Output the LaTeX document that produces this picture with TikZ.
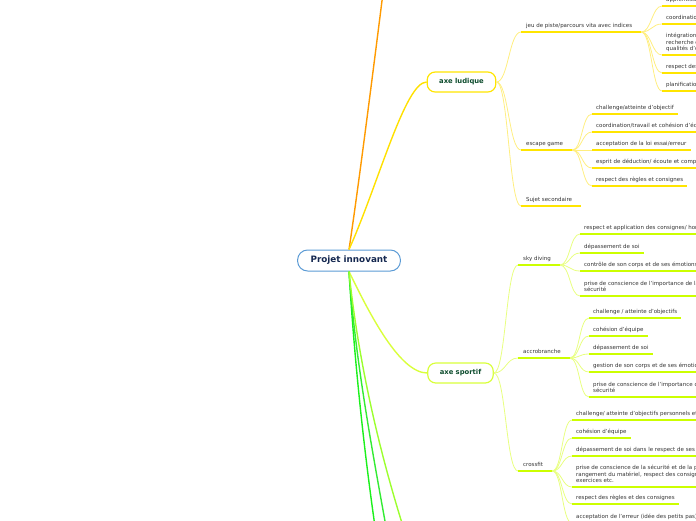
\documentclass[tikz,border=0pt]{standalone}
\usepackage{fontspec}
\setmainfont{DejaVu Sans}
\definecolor{txtc}{HTML}{333333}
\definecolor{rootb}{HTML}{5B9BD5}
\definecolor{roott}{HTML}{152850}
\definecolor{axet}{HTML}{0E4D2E}
\definecolor{orangeL}{HTML}{FF9A00}
\definecolor{yelM}{HTML}{FFE000}
\definecolor{yelC}{HTML}{FFEE80}
\definecolor{yelU}{HTML}{FFE500}
\definecolor{ygM}{HTML}{D9FF3B}
\definecolor{ygC}{HTML}{E8FF80}
\definecolor{ygU}{HTML}{CCFF00}
\definecolor{grA}{HTML}{1BF01B}
\definecolor{grB}{HTML}{33EB33}
\definecolor{grC}{HTML}{9CFF2E}
\tikzset{
  leaf/.style={anchor=south west, inner xsep=4pt, inner ysep=2pt, align=left,
    text=txtc, font=\fontsize{5.5}{6.6}\selectfont, execute at end node={\strut}},
  midnode/.style={leaf, inner xsep=5pt, execute at end node={\hspace*{4pt}\strut}},
  rootbox/.style={draw=rootb, line width=1pt, fill=white, rounded corners=10pt,
    minimum height=21pt, inner xsep=13pt, text=roott, font=\fontsize{8.8}{10}\selectfont\bfseries},
  axebox/.style={line width=1.2pt, fill=white, rounded corners=8pt,
    minimum height=20pt, inner xsep=12pt, text=axet, font=\fontsize{6.8}{8}\selectfont\bfseries},
  mainline/.style={line width=1.4pt},
  conL/.style={draw=yelC, line width=0.8pt},
  conS/.style={draw=ygC, line width=0.8pt},
  ulL/.style={draw=yelU, line width=1.8pt},
  ulS/.style={draw=ygU, line width=1.8pt},
}
\begin{document}
\begin{tikzpicture}[x=1pt,y=-1pt]
\useasboundingbox (0,0) rectangle (696,520);
\clip (0,0) rectangle (696,520);

% root and main axes
\node[rootbox] (root) at (349,260.5) {Projet innovant};
\node[axebox, draw=yelU] (lud) at (461.5,82) {axe ludique};
\node[axebox, draw=ygM] (spo) at (460.5,373) {axe sportif};

\coordinate (oTop) at (384,-15);
\coordinate (gA) at (380,560);
\coordinate (gB) at (392,560);
\coordinate (gC) at (414,560);

% ludique branch
\node[midnode] (jeu) at (521,32) {jeu de piste/parcours vita avec indices};
\node[midnode] (esc) at (521,150) {escape game};
\node[midnode] (suj) at (521,206) {Sujet secondaire};

\node[leaf] (j1) at (662,6) {apprentissage};
\node[leaf] (j2) at (662,24) {coordination};
\node[leaf] (j3) at (662,55) {intégration des règles,\\recherche d'indices,\\qualités d'observation};
\node[leaf] (j4) at (662,73) {respect des règles et consignes};
\node[leaf] (j5) at (662,91) {planification};

\node[leaf] (e1) at (592,114) {challenge/atteinte d'objectif};
\node[leaf] (e2) at (592,132) {coordination/travail et cohésion d'équipe};
\node[leaf] (e3) at (592,150) {acceptation de la loi essai/erreur};
\node[leaf] (e4) at (592,168) {esprit de déduction/ écoute et compréhension};
\node[leaf] (e5) at (592,186) {respect des règles et consignes};

% sportif branch
\node[midnode] (sky) at (518,265) {sky diving};
\node[midnode] (acc) at (518,358) {accrobranche};
\node[midnode] (cro) at (518,471) {crossfit};

\node[leaf] (s1) at (580,234) {respect et application des consignes/ horaires};
\node[leaf] (s2) at (580,253) {dépassement de soi};
\node[leaf] (s3) at (580,271) {contrôle de son corps et de ses émotions};
\node[leaf] (s4) at (580,296) {prise de conscience de l'importance de la\\sécurité};

\node[leaf] (a1) at (589,318) {challenge / atteinte d'objectifs};
\node[leaf] (a2) at (589,336) {cohésion d'équipe};
\node[leaf] (a3) at (589,354) {dépassement de soi};
\node[leaf] (a4) at (589,372) {gestion de son corps et de ses émotions};
\node[leaf] (a5) at (589,397) {prise de conscience de l'importance de la\\sécurité};

\node[leaf] (c1) at (572,420) {challenge/ atteinte d'objectifs personnels et collectifs};
\node[leaf] (c2) at (572,438) {cohésion d'équipe};
\node[leaf] (c3) at (572,456) {dépassement de soi dans le respect de ses limites};
\node[leaf] (c4) at (572,487) {prise de conscience de la sécurité et de la prévention\\rangement du matériel, respect des consignes\\exercices etc.};
\node[leaf] (c5) at (572,504) {respect des règles et des consignes};
\node[leaf] (c6) at (572,523) {acceptation de l'erreur (idée des petits pas)};

% main connectors
\draw[mainline, draw=orangeL] (root.north) .. controls (358,190) and (372,80) .. (oTop);
\draw[mainline, draw=yelM] (root.north) .. controls (378,185) and (405,82) .. (lud.west);
\draw[mainline, draw=ygM] (root.south) .. controls (370,315) and (400,373) .. (spo.west);
\draw[mainline, draw=grA] (root.south) .. controls (355,370) and (366,470) .. (gA);
\draw[mainline, draw=grB] (root.south) .. controls (356,370) and (376,470) .. (gB);
\draw[mainline, draw=grC] (root.south) .. controls (358,360) and (380,460) .. (gC);

% ludique connectors and underlines
\foreach \m in {jeu,esc,suj}
  \draw[conL] (lud.east) .. controls +(12,0) and +(-12,0) .. (\m.south west);
\foreach \c in {j1,j2,j3,j4,j5}
  \draw[conL] (jeu.south east) .. controls +(10,0) and +(-10,0) .. (\c.south west);
\foreach \c in {e1,e2,e3,e4,e5}
  \draw[conL] (esc.south east) .. controls +(10,0) and +(-10,0) .. (\c.south west);
\foreach \n in {jeu,esc,suj,j1,j2,j3,j4,j5,e1,e2,e3,e4,e5}
  \draw[ulL] (\n.south west) -- (\n.south east);

% sportif connectors and underlines
\foreach \m in {sky,acc,cro}
  \draw[conS] (spo.east) .. controls +(12,0) and +(-12,0) .. (\m.south west);
\foreach \c in {s1,s2,s3,s4}
  \draw[conS] (sky.south east) .. controls +(10,0) and +(-10,0) .. (\c.south west);
\foreach \c in {a1,a2,a3,a4,a5}
  \draw[conS] (acc.south east) .. controls +(10,0) and +(-10,0) .. (\c.south west);
\foreach \c in {c1,c2,c3,c4,c5,c6}
  \draw[conS] (cro.south east) .. controls +(10,0) and +(-10,0) .. (\c.south west);
\foreach \n in {sky,acc,cro,s1,s2,s3,s4,a1,a2,a3,a4,a5,c1,c2,c3,c4,c5,c6}
  \draw[ulS] (\n.south west) -- (\n.south east);
\end{tikzpicture}
\end{document}
